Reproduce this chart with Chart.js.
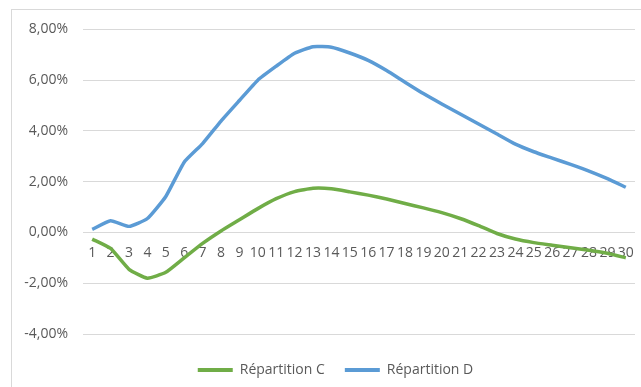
<!DOCTYPE html>
<html>
<head>
<meta charset="utf-8">
<script src="https://cdn.jsdelivr.net/npm/chart.js@4/dist/chart.umd.min.js"></script>
<style>
    html, body { margin: 0; padding: 0; background: #fff; overflow: hidden; }
    .frame {
        position: absolute; left: 11px; top: 9px;
        width: 672px; height: 390px;
        border: 1px solid #d9d9d9; box-sizing: border-box;
    }
    .frame canvas { position: absolute; left: 0; top: -4px; }
</style>
</head>
<body>
<div class="frame"><canvas id="chart" width="670" height="380"></canvas></div>
<script>
var categories = ['1','2','3','4','5','6','7','8','9','10','11','12','13','14','15',
    '16','17','18','19','20','21','22','23','24','25','26','27','28','29','30'];
var repartitionC = [-0.26, -0.63, -1.45, -1.80, -1.57, -1.00, -0.43, 0.06, 0.50, 0.94,
    1.33, 1.61, 1.74, 1.72, 1.60, 1.47, 1.32, 1.14, 0.97, 0.78,
    0.55, 0.27, -0.04, -0.26, -0.40, -0.50, -0.60, -0.70, -0.82, -1.00];
var repartitionD = [0.12, 0.46, 0.24, 0.55, 1.42, 2.77, 3.50, 4.39, 5.20, 6.00,
    6.55, 7.06, 7.32, 7.30, 7.07, 6.78, 6.38, 5.92, 5.47, 5.06,
    4.67, 4.27, 3.88, 3.48, 3.18, 2.93, 2.68, 2.42, 2.12, 1.78];
var yTicks = [-4, -2, 0, 2, 4, 6, 8];

(function() {
    'use strict';

    var green = '#70ad47';
    var blue = '#5b9bd5';
    var gray = '#595959';

    function fmt(v) {
        return v.toFixed(2).replace('.', ',') + '%';
    }

    // the legend in the original sits a bit right of and below where Chart.js puts it
    var legendNudge = {
        id: 'legendNudge',
        afterLayout: function(chart) {
            var lg = chart.legend;
            if (!lg) return;
            lg.left += 12; lg.right += 12;
            lg.top += 9; lg.bottom += 9;
        }
    };

    var canvas = document.getElementById('chart');
    new Chart(canvas, {
        type: 'line',
        data: {
            labels: categories,
            datasets: [{
                label: 'Répartition C',
                data: repartitionC,
                borderColor: green,
                backgroundColor: green,
                borderWidth: 3.5,
                pointRadius: 0,
                tension: 0.15
            }, {
                label: 'Répartition D',
                data: repartitionD,
                borderColor: blue,
                backgroundColor: blue,
                borderWidth: 3.5,
                pointRadius: 0,
                tension: 0.15
            }]
        },
        plugins: [legendNudge],
        options: {
            responsive: false,
            animation: false,
            layout: { padding: { top: 19, right: 47, bottom: 8, left: 0 } },
            plugins: {
                tooltip: { enabled: false },
                legend: {
                    position: 'bottom',
                    labels: {
                        color: gray,
                        font: { family: 'Open Sans', size: 14 },
                        boxWidth: 35,
                        boxHeight: 4,
                        padding: 20,
                        generateLabels: function(chart) {
                            var items = Chart.defaults.plugins.legend.labels.generateLabels(chart);
                            items.forEach(function(it) { it.lineWidth = 0; });
                            return items;
                        }
                    }
                }
            },
            scales: {
                x: {
                    position: { y: 0 },
                    offset: true,
                    grid: { display: false },
                    border: { display: false },
                    ticks: {
                        color: gray,
                        font: { family: 'Open Sans', size: 14 },
                        autoSkip: false,
                        maxRotation: 0,
                        padding: 4
                    }
                },
                y: {
                    min: yTicks[0],
                    max: yTicks[yTicks.length - 1],
                    afterFit: function(scale) { scale.width = 71; },
                    afterBuildTicks: function(scale) {
                        scale.ticks = yTicks.map(function(v) { return { value: v }; });
                    },
                    grid: { color: '#d9d9d9', lineWidth: 1, drawTicks: false },
                    border: { display: false },
                    ticks: {
                        color: gray,
                        font: { family: 'Open Sans', size: 14 },
                        padding: 15,
                        callback: function(v) { return fmt(v); }
                    }
                }
            }
        }
    });
})();
</script>
</body>
</html>
